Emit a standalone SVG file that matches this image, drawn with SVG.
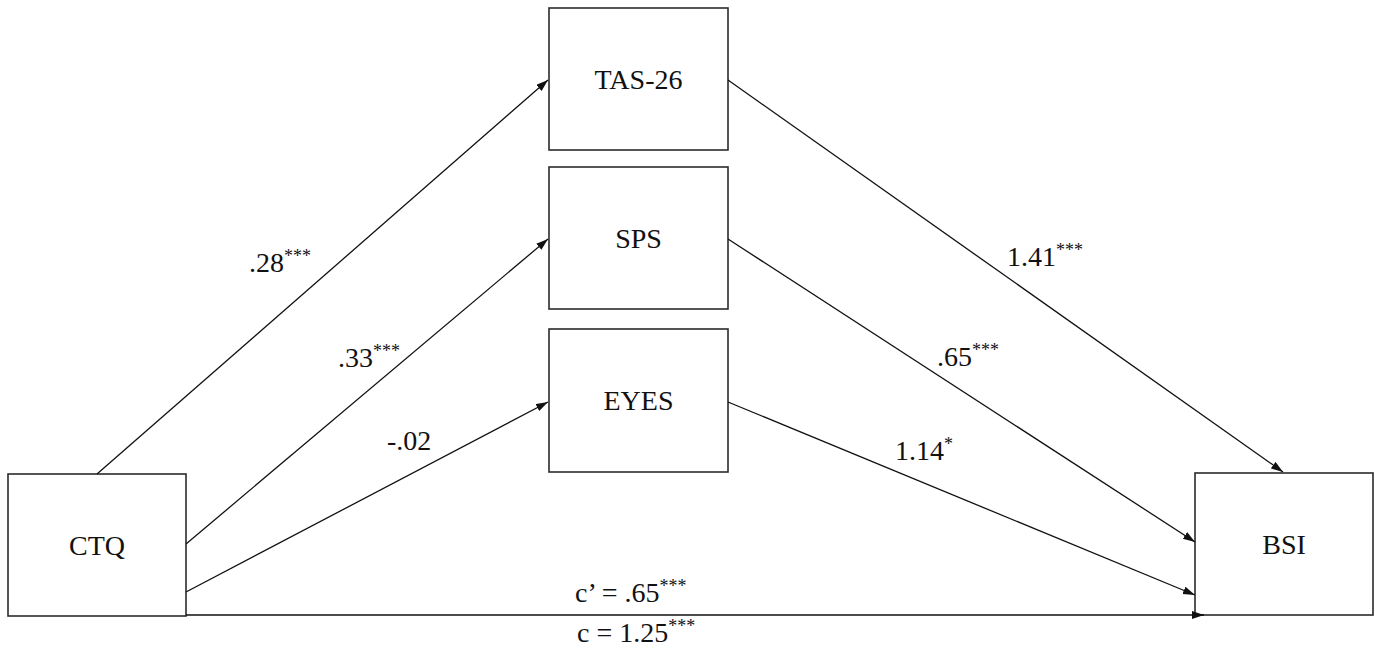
<svg xmlns="http://www.w3.org/2000/svg" width="1375" height="652" viewBox="0 0 1375 652">
<style>
.box{fill:#fff;stroke:#2b2b2b;stroke-width:1.6}
.t{font-family:"Liberation Serif","Times New Roman",serif;font-size:28px;fill:#111}
.n{text-anchor:middle}
.c{stroke:#111;stroke-width:1.3;fill:none}
.s{font-size:18px}
</style>
<defs>
<marker id="ah" markerUnits="userSpaceOnUse" markerWidth="13" markerHeight="9" refX="12" refY="4" orient="auto">
<path d="M0,0 L12,4 L0,8 z" fill="#111"/>
</marker>
</defs>
<rect width="1375" height="652" fill="#fff"/>
<g id="CTQ">
<rect class="box" x="8" y="474" width="178" height="142"/>
<text class="t n" x="97" y="555">CTQ</text>
</g>
<g id="TAS-26">
<rect class="box" x="549" y="8" width="179" height="142"/>
<text class="t n" x="638.5" y="89">TAS-26</text>
</g>
<g id="SPS">
<rect class="box" x="549" y="167" width="179" height="142"/>
<text class="t n" x="638.5" y="248">SPS</text>
</g>
<g id="EYES">
<rect class="box" x="549" y="329" width="179" height="143"/>
<text class="t n" x="638.5" y="410">EYES</text>
</g>
<g id="BSI">
<rect class="box" x="1195" y="473" width="178" height="142"/>
<text class="t n" x="1284" y="554">BSI</text>
</g>
<g id="connectors">
<line class="c" x1="97" y1="474" x2="548" y2="80" marker-end="url(#ah)"/>
<line class="c" x1="186" y1="544" x2="548" y2="239" marker-end="url(#ah)"/>
<line class="c" x1="186" y1="592" x2="548" y2="402" marker-end="url(#ah)"/>
<line class="c" x1="186" y1="615" x2="1204" y2="615" marker-end="url(#ah)"/>
<line class="c" x1="728" y1="80" x2="1283" y2="472" marker-end="url(#ah)"/>
<line class="c" x1="728" y1="239" x2="1195" y2="542" marker-end="url(#ah)"/>
<line class="c" x1="728" y1="402" x2="1195" y2="595" marker-end="url(#ah)"/>
</g>
<g id="labels">
<text class="t" x="249" y="272">.28<tspan class="s" dy="-10">***</tspan></text>
<text class="t" x="338" y="367">.33<tspan class="s" dy="-10">***</tspan></text>
<text class="t" x="387" y="450">-.02</text>
<text class="t" x="1007" y="266">1.41<tspan class="s" dy="-10">***</tspan></text>
<text class="t" x="937" y="366">.65<tspan class="s" dy="-10">***</tspan></text>
<text class="t" x="895" y="460">1.14<tspan class="s" dy="-10">*</tspan></text>
<text class="t" x="575" y="602">c’ = .65<tspan class="s" dy="-10">***</tspan></text>
<text class="t" x="577" y="642">c = 1.25<tspan class="s" dy="-10">***</tspan></text>
</g>
</svg>
